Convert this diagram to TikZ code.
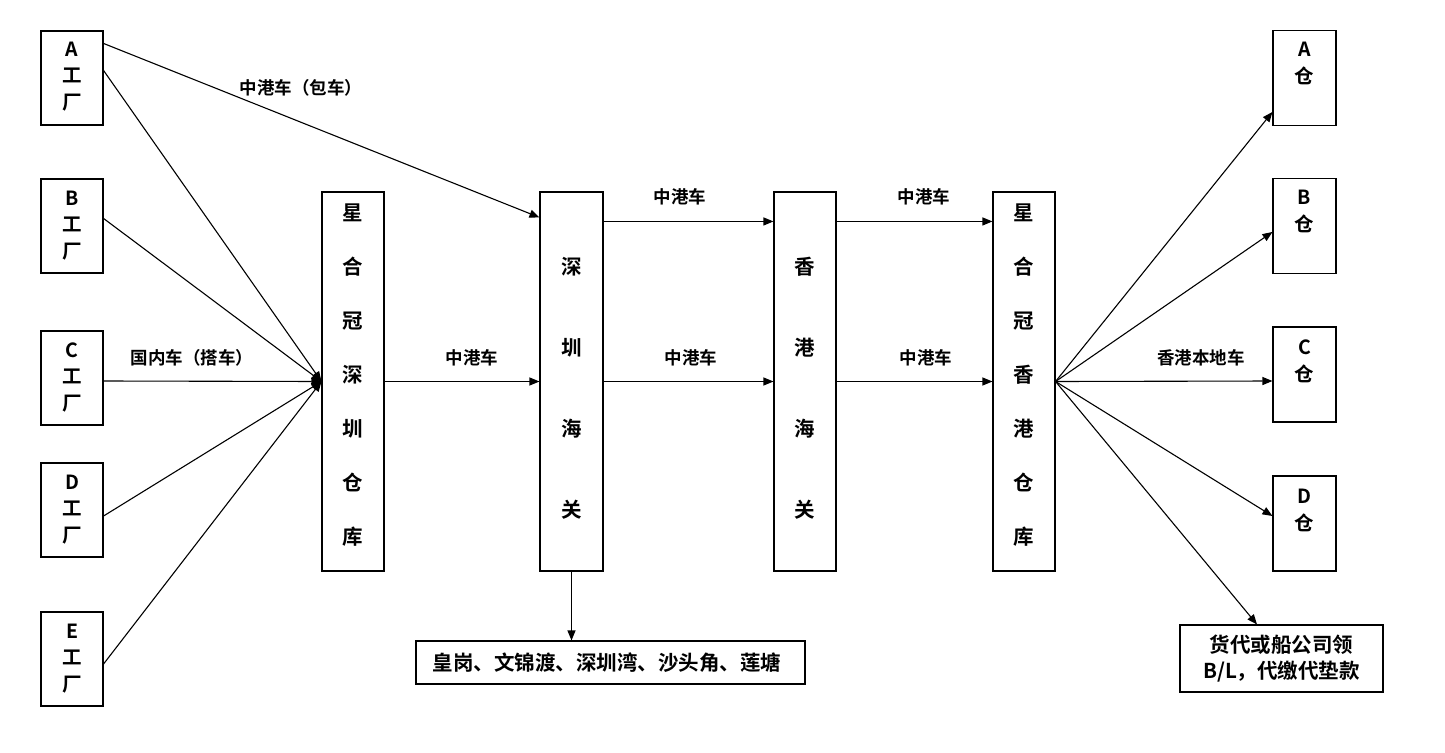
\documentclass[tikz,border=0pt]{standalone}
\usepackage{fontspec}
\setmainfont{Noto Sans CJK SC Bold}
\usetikzlibrary{arrows.meta}
\begin{document}
\begin{tikzpicture}[x=1pt,y=-1pt,
  box/.style={draw, line width=1.1pt, rectangle, inner sep=0pt},
  fbox/.style={box, minimum width=62pt, minimum height=94pt},
  tallbox/.style={box, minimum width=62pt, minimum height=379pt},
  lbl/.style={font=\fontsize{17.5}{19}\selectfont, inner sep=0pt},
  arr/.style={line width=1.1pt, -{Triangle[length=10pt,width=8pt]}},
  ftext/.style={font=\fontsize{19.5}{26.5}\selectfont, align=center, inner sep=0pt},
  wtext/.style={font=\fontsize{20.5}{54}\selectfont, align=center, inner sep=0pt},
  ctext/.style={font=\fontsize{20.5}{81}\selectfont, align=center, inner sep=0pt},
  rtext/.style={font=\fontsize{19.5}{27}\selectfont, align=center, inner sep=0pt},
  btext/.style={font=\fontsize{20.5}{26}\selectfont, align=center, inner sep=0pt}]

\useasboundingbox[fill=white] (0,0) rectangle (1445,752);

% factories
\node[fbox] (fa) at (72,78) {};
\node[fbox] (fb) at (72,226) {};
\node[fbox] (fc) at (72,378) {};
\node[fbox] (fd) at (72,510) {};
\node[fbox] (fe) at (72,659) {};
\node[ftext] (tfa) at (72,76.5) {A\\工\\厂};
\node[ftext] (tfb) at (72,225.5) {B\\工\\厂};
\node[ftext] (tfc) at (72,377.5) {C\\工\\厂};
\node[ftext] (tfd) at (72,509.5) {D\\工\\厂};
\node[ftext] (tfe) at (72,658.5) {E\\工\\厂};

% tall boxes
\node[tallbox] (szw) at (353,381.5) {};
\node[wtext] (tszw) at (353,375.5) {星\\合\\冠\\深\\圳\\仓\\库};
\node[tallbox, minimum width=63pt] (szc) at (571.5,381.5) {};
\node[ctext] (tszc) at (571.5,388.5) {深\\圳\\海\\关};
\node[tallbox] (hkc) at (805,381.5) {};
\node[ctext] (thkc) at (805,388.5) {香\\港\\海\\关};
\node[tallbox] (hkw) at (1024,381.5) {};
\node[wtext] (thkw) at (1024,375.5) {星\\合\\冠\\香\\港\\仓\\库};

% right warehouses
\node[fbox, minimum width=63pt, minimum height=95pt] (ra) at (1304.5,78) {};
\node[fbox, minimum width=63pt, minimum height=95pt] (rb) at (1304.5,226) {};
\node[fbox, minimum width=63pt, minimum height=95pt] (rc) at (1304.5,374.5) {};
\node[fbox, minimum width=63pt, minimum height=95pt] (rd) at (1304.5,523.5) {};
\node[rtext] (tra) at (1304.5,63.5) {A\\仓};
\node[rtext] (trb) at (1304.5,211.5) {B\\仓};
\node[rtext] (trc) at (1304.5,361) {C\\仓};
\node[rtext] (trd) at (1304.5,510.5) {D\\仓};

% bottom boxes
\node[box, minimum width=203pt, minimum height=67pt] (bl) at (1281.5,658.5) {};
\node[btext] (tbl) at (1281.5,659) {货代或船公司领\\B/L，代缴代垫款};
\node[box, minimum width=389pt, minimum height=43pt] (ports) at (610.5,662.5) {};
\node[btext] (tports) at (607,662.5) {皇岗、文锦渡、深圳湾、沙头角、莲塘};

% factory arrows
\draw[arr] ([yshift=-13pt]fa.north east) -- ([yshift=-26pt]szc.north west);
\draw[arr] ([yshift=-40pt]fa.north east) -- (szw.west);
\draw[arr] ([yshift=-40pt]fb.north east) -- (szw.west);
\draw[arr] ([yshift=-3pt]fc.east) -- (szw.west);
\draw[arr] ([yshift=-6pt]fd.east) -- (szw.west);
\draw[arr] ([yshift=-5pt]fe.east) -- (szw.west);
\node[lbl] (l1) at (301,88) {中港车（包车）};
\node[lbl] (l2) at (192,358) {国内车（搭车）};

% middle arrows
\draw[arr] (szw.east) -- (szc.west);
\node[lbl] (l3) at (472,358) {中港车};
\draw[arr] ([yshift=-30pt]szc.north east) -- ([yshift=-30pt]hkc.north west);
\node[lbl] (l4) at (680,197) {中港车};
\draw[arr] (szc.east) -- (hkc.west);
\node[lbl] (l5) at (691,358) {中港车};
\draw[arr] ([yshift=-30pt]hkc.north east) -- ([yshift=-30pt]hkw.north west);
\node[lbl] (l6) at (924,197) {中港车};
\draw[arr] (hkc.east) -- (hkw.west);
\node[lbl] (l7) at (926,358) {中港车};

% down arrow
\draw[arr] (szc.south) -- (szc.south |- ports.north);

% right arrows
\draw[arr] (hkw.east) -- ([yshift=-82pt]ra.north west);
\draw[arr] (hkw.east) -- ([yshift=-54pt]rb.north west);
\draw[arr] (hkw.east) -- ([yshift=-6.5pt]rc.west);
\draw[arr] (hkw.east) -- ([yshift=7.5pt]rd.west);
\draw[arr] (hkw.east) -- ([xshift=-24.5pt]bl.north);
\node[lbl] (l8) at (1201,358) {香港本地车};
\end{tikzpicture}
\end{document}
